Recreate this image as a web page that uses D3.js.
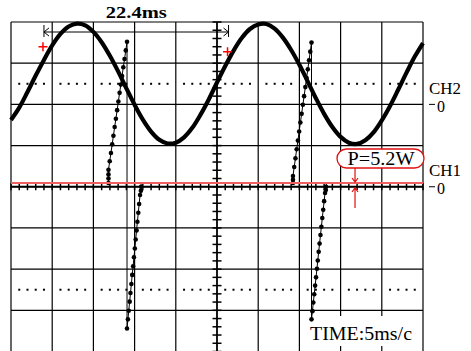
<!DOCTYPE html>
<html>
<head>
<meta charset="utf-8">
<script src="https://cdn.jsdelivr.net/npm/d3@7"></script>
<style>
  body { margin: 0; background: #fff; }
  text { font-family: "Liberation Serif", "Times New Roman", serif; fill: #000; }
</style>
</head>
<body>
<div id="scope"></div>
<script>
// screen size and graticule box
var width = 471, height = 351;
var box = { left: 11, right: 423, top: 22, bottom: 351.5 };

// CH2 (sine) in divisions, one sample per ms from 0 to 50 ms
var ch2Div = [1.62, 1.92, 2.30, 2.70, 3.08, 3.43, 3.71, 3.89, 3.96, 3.92,
              3.76, 3.51, 3.18, 2.80, 2.39, 1.99, 1.63, 1.34, 1.14, 1.05,
              1.07, 1.20, 1.43, 1.75, 2.12, 2.53, 2.93, 3.30, 3.61, 3.83,
              3.94, 3.95, 3.84, 3.62, 3.32, 2.96, 2.56, 2.15, 1.77, 1.45,
              1.21, 1.07, 1.04, 1.13, 1.32, 1.61, 1.96, 2.36, 2.77, 3.16, 3.49];

// CH1 (power) samples [ms, div]
var ch1Base = 0.09;
var ch1Rise1 = [[11.83, 0.09], [11.83, 0.20], [11.83, 0.30], [11.83, 0.41], [11.98, 0.62],
                [12.13, 0.82], [12.28, 1.03], [12.43, 1.24], [12.58, 1.45], [12.73, 1.65],
                [12.88, 1.86], [13.03, 2.07], [13.18, 2.28], [13.33, 2.48], [13.48, 2.69],
                [13.63, 2.90], [13.78, 3.10], [13.93, 3.31], [14.08, 3.52]];
var ch1Fall1 = [[14.08, -3.44], [14.19, -3.22], [14.29, -3.01], [14.40, -2.79], [14.50, -2.58],
                [14.61, -2.36], [14.71, -2.14], [14.82, -1.93], [14.92, -1.71], [15.03, -1.50],
                [15.13, -1.28], [15.24, -1.06], [15.34, -0.85], [15.45, -0.63], [15.55, -0.42],
                [15.66, -0.20], [15.76, -0.10], [15.78, 0.00]];
var ch1Rise2 = [[34.22, 0.09], [34.22, 0.17], [34.22, 0.26], [34.37, 0.48], [34.52, 0.69],
                [34.67, 0.91], [34.82, 1.12], [34.97, 1.34], [35.12, 1.56], [35.27, 1.77],
                [35.42, 1.99], [35.57, 2.20], [35.72, 2.42], [35.87, 2.64], [36.02, 2.85],
                [36.17, 3.07], [36.32, 3.28], [36.47, 3.50]];
var ch1Fall2 = [[36.47, -3.22], [36.58, -3.02], [36.69, -2.81], [36.80, -2.61], [36.91, -2.40],
                [37.02, -2.20], [37.13, -1.99], [37.23, -1.79], [37.34, -1.58], [37.45, -1.38],
                [37.56, -1.17], [37.67, -0.97], [37.78, -0.76], [37.89, -0.56], [38.00, -0.35],
                [38.11, -0.15], [38.21, -0.08], [38.23, 0.00]];

// cursors, markers and labels
var cursorTimes = [4.0, 26.4];
var cursorMarks = [[4.0, 3.40], [26.4, 3.28]];
var refLevels = [2.5, -2.5];
var zeroLevels = [{ name: "CH2", div: 2 }, { name: "CH1", div: 0 }];
var deltaLabel = "22.4ms";
var powerLabel = "P=5.2W";
var powerTime = 41.75;
var timeLabel = "TIME:5ms/c";

var svg = d3.select("#scope").append("svg")
    .attr("width", width)
    .attr("height", height);

svg.append("rect").attr("width", width).attr("height", height).attr("fill", "#fff");

var x = d3.scaleLinear().domain([0, 50]).range([box.left, box.right]);
var y = d3.scaleLinear().domain([-4, 4]).range([box.bottom, box.top]);

// graticule
svg.selectAll(".vgrid")
    .data(d3.range(0, 55, 5))
    .enter().append("line")
    .attr("x1", function (d) { return x(d); })
    .attr("x2", function (d) { return x(d); })
    .attr("y1", box.top).attr("y2", box.bottom)
    .attr("stroke", "#000").attr("stroke-width", 1.2);

svg.selectAll(".hgrid")
    .data(d3.range(-4, 5))
    .enter().append("line")
    .attr("x1", box.left).attr("x2", box.right)
    .attr("y1", function (d) { return y(d); })
    .attr("y2", function (d) { return y(d); })
    .attr("stroke", "#000").attr("stroke-width", 1.2);

// white patch behind the time label
svg.append("rect")
    .attr("x", 303).attr("y", 316)
    .attr("width", 118).attr("height", 30)
    .attr("fill", "#fff");

// dotted reference lines
refLevels.forEach(function (lv) {
    svg.selectAll(null)
        .data(d3.range(0, 51).filter(function (t) { return t % 5 !== 0; }))
        .enter().append("rect")
        .attr("x", function (t) { return x(t) - 1; })
        .attr("y", y(lv) - 1)
        .attr("width", 2).attr("height", 2)
        .attr("fill", "#000");
});

// centre axes with minor ticks
svg.append("line")
    .attr("x1", x(25)).attr("x2", x(25))
    .attr("y1", box.top).attr("y2", box.bottom)
    .attr("stroke", "#000").attr("stroke-width", 1.5);
svg.append("line")
    .attr("x1", box.left).attr("x2", box.right)
    .attr("y1", y(0)).attr("y2", y(0))
    .attr("stroke", "#000").attr("stroke-width", 2);

svg.selectAll(".vtick")
    .data(d3.range(-20, 21).map(function (k) { return k / 5; }))
    .enter().append("line")
    .attr("x1", x(25) - 4.5).attr("x2", x(25) + 4.5)
    .attr("y1", function (d) { return y(d); })
    .attr("y2", function (d) { return y(d); })
    .attr("stroke", "#000").attr("stroke-width", 1.5);

svg.selectAll(".htick")
    .data(d3.range(0, 51))
    .enter().append("line")
    .attr("x1", function (d) { return x(d); })
    .attr("x2", function (d) { return x(d); })
    .attr("y1", y(0) - 3.5).attr("y2", y(0) + 3.5)
    .attr("stroke", "#000").attr("stroke-width", 1.5);

// CH1 trace: thin line plus sample dots
var ch1Path = [[0, ch1Base]].concat(ch1Rise1, ch1Fall1, [[15.8, ch1Base]],
                                    ch1Rise2, ch1Fall2, [[38.3, ch1Base], [50, ch1Base]]);
var line = d3.line()
    .x(function (d) { return x(d[0]); })
    .y(function (d) { return y(d[1]); });

svg.append("path")
    .datum(ch1Path)
    .attr("d", line)
    .attr("fill", "none")
    .attr("stroke", "#000")
    .attr("stroke-width", 1);

svg.selectAll(".ch1dot")
    .data([].concat(ch1Rise1, ch1Fall1, ch1Rise2, ch1Fall2))
    .enter().append("circle")
    .attr("cx", function (d) { return x(d[0]); })
    .attr("cy", function (d) { return y(d[1]); })
    .attr("r", 2.3)
    .attr("fill", "#000");

// CH1 level line (red)
svg.append("line")
    .attr("x1", box.left).attr("x2", box.right)
    .attr("y1", y(ch1Base)).attr("y2", y(ch1Base))
    .attr("stroke", "#f06060").attr("stroke-width", 2);

// CH2 trace
svg.append("path")
    .datum(ch2Div)
    .attr("d", d3.line()
        .x(function (d, i) { return x(i); })
        .y(function (d) { return y(d); })
        .curve(d3.curveCatmullRom))
    .attr("fill", "none")
    .attr("stroke", "#000")
    .attr("stroke-width", 4.2);

// delta-t cursor bracket
var cx0 = x(cursorTimes[0]), cx1 = x(cursorTimes[1]);
svg.append("path")
    .attr("d", "M" + cx0 + ",25V37M" + cx1 + ",25V37M" + cx0 + ",32H" + cx1 +
               "M" + (cx0 + 5) + ",28L" + cx0 + ",32L" + (cx0 + 5) + ",36" +
               "M" + (cx1 - 5) + ",28L" + cx1 + ",32L" + (cx1 - 5) + ",36")
    .attr("fill", "none")
    .attr("stroke", "#000")
    .attr("stroke-width", 1);

svg.append("text")
    .attr("x", (cx0 + cx1) / 2)
    .attr("y", 18)
    .attr("text-anchor", "middle")
    .attr("textLength", 61)
    .attr("lengthAdjust", "spacingAndGlyphs")
    .style("font-size", "16px")
    .style("font-weight", "bold")
    .text(deltaLabel);

// red cursor crosses
svg.selectAll(".mark")
    .data(cursorMarks)
    .enter().append("path")
    .attr("d", function (d) {
        var px = x(d[0]) - 1, py = y(d[1]);
        return "M" + (px - 4.5) + "," + py + "H" + (px + 4.5) + "M" + px + "," + (py - 4.5) + "V" + (py + 4.5);
    })
    .attr("stroke", "#ff0000")
    .attr("stroke-width", 1.5);

// channel labels and zero markers
zeroLevels.forEach(function (z) {
    var zy = y(z.div);
    svg.append("text")
        .attr("x", 429).attr("y", zy - 10.5)
        .attr("textLength", 32)
        .attr("lengthAdjust", "spacingAndGlyphs")
        .style("font-size", "16px")
        .text(z.name);
    svg.append("line")
        .attr("x1", 429).attr("x2", 435)
        .attr("y1", zy).attr("y2", zy)
        .attr("stroke", "#000").attr("stroke-width", 1);
    svg.append("text")
        .attr("x", 437).attr("y", zy + 7.5)
        .style("font-size", "16px")
        .text("0");
});

// time base label
svg.append("text")
    .attr("x", 310).attr("y", 340)
    .attr("textLength", 102)
    .attr("lengthAdjust", "spacingAndGlyphs")
    .style("font-size", "18px")
    .text(timeLabel);

// power readout with arrows
var px = x(powerTime);
svg.append("rect")
    .attr("x", 337).attr("y", 149)
    .attr("width", 87).attr("height", 19)
    .attr("rx", 9.5)
    .attr("fill", "#fff")
    .attr("stroke", "#e01010")
    .attr("stroke-width", 1.3);
svg.append("text")
    .attr("x", 381).attr("y", 165)
    .attr("text-anchor", "middle")
    .attr("textLength", 67)
    .attr("lengthAdjust", "spacingAndGlyphs")
    .style("font-size", "18px")
    .text(powerLabel);
svg.append("path")
    .attr("d", "M" + px + ",168V" + (y(ch1Base) - 1) +
               "M" + (px - 3) + ",178L" + px + "," + (y(ch1Base) - 1) + "L" + (px + 3) + ",178" +
               "M" + px + ",208V" + (y(0) + 1) +
               "M" + (px - 3) + ",192L" + px + "," + (y(0) + 1) + "L" + (px + 3) + ",192")
    .attr("fill", "none")
    .attr("stroke", "#e01010")
    .attr("stroke-width", 1.2);
</script>
</body>
</html>
